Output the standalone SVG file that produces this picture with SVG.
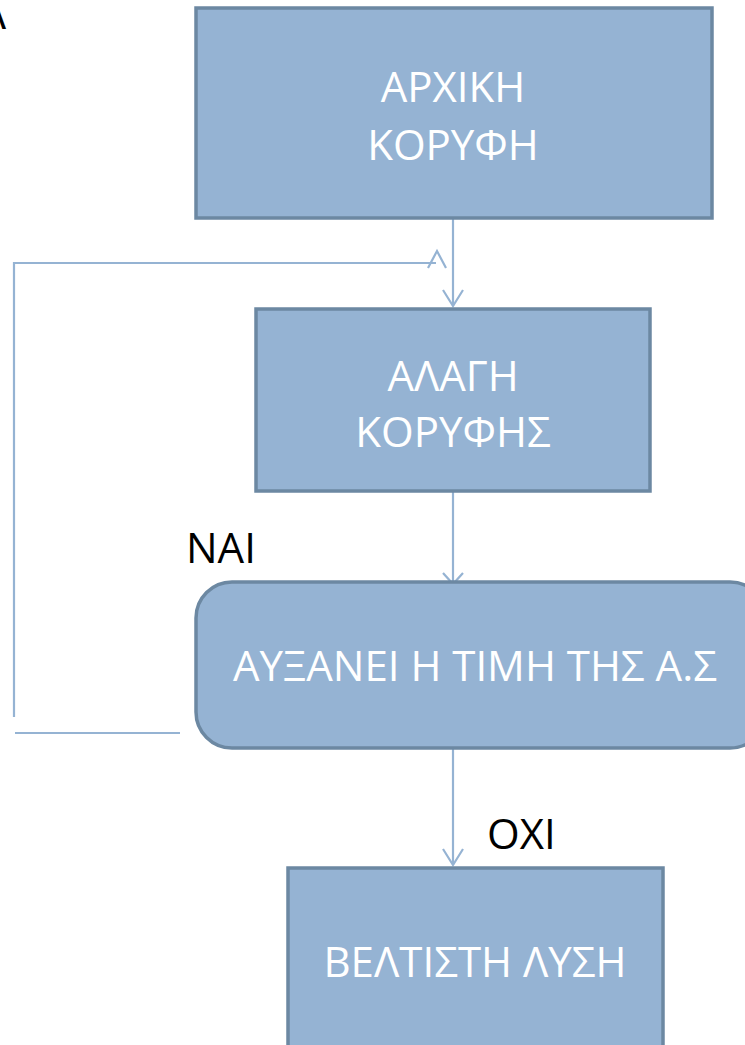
<svg xmlns="http://www.w3.org/2000/svg" width="745" height="1045" viewBox="0 0 745 1045">
<style>
.box{fill:#95b3d3;stroke:#6c88a2;stroke-width:3.5}
.lbl{font-family:"Open Sans","Noto Sans",sans-serif;font-size:42px;fill:#ffffff;text-anchor:middle}
.blk{font-family:"Open Sans","Noto Sans",sans-serif;font-size:42px;fill:#000000}
.con{fill:none;stroke:#95b3d3;stroke-width:2.2}
</style>
<rect width="745" height="1045" fill="#ffffff"/>
<text class="blk" x="6" y="29" text-anchor="end">Λ</text>
<g id="connectors">
<line class="con" x1="453" y1="219" x2="453" y2="306"/>
<path class="con" d="M443,290 L453,306 L463,290"/>
<path class="con" d="M14,717 L14,263 L436,263"/>
<path class="con" d="M428,268 L437,251 L446,268"/>
<line class="con" x1="15" y1="733" x2="180" y2="733"/>
<line class="con" x1="453" y1="491" x2="453" y2="584"/>
<path class="con" d="M443,573 L453,584 L463,573"/>
<line class="con" x1="453" y1="748" x2="453" y2="865"/>
<path class="con" d="M443,849 L453,865 L463,849"/>
</g>
<g id="node-start">
<rect class="box" x="196" y="8" width="516" height="210"/>
<text class="lbl" x="453" y="102">ΑΡΧΙΚΗ</text>
<text class="lbl" x="453" y="160">ΚΟΡΥΦΗ</text>
</g>
<g id="node-change">
<rect class="box" x="256" y="309" width="394" height="182"/>
<text class="lbl" x="453" y="391">ΑΛΑΓΗ</text>
<text class="lbl" x="453" y="447">ΚΟΡΥΦΗΣ</text>
</g>
<g id="node-decision">
<rect class="box" x="196" y="582" width="570" height="166" rx="36" ry="36"/>
<text class="lbl" x="475" y="681">ΑΥΞΑΝΕΙ Η ΤΙΜΗ ΤΗΣ Α.Σ</text>
</g>
<g id="node-best">
<rect class="box" x="288" y="868" width="375" height="200"/>
<text class="lbl" x="475" y="977">ΒΕΛΤΙΣΤΗ ΛΥΣΗ</text>
</g>
<text class="blk" x="186" y="563">ΝΑΙ</text>
<text class="blk" x="487" y="849">ΟΧΙ</text>
</svg>
